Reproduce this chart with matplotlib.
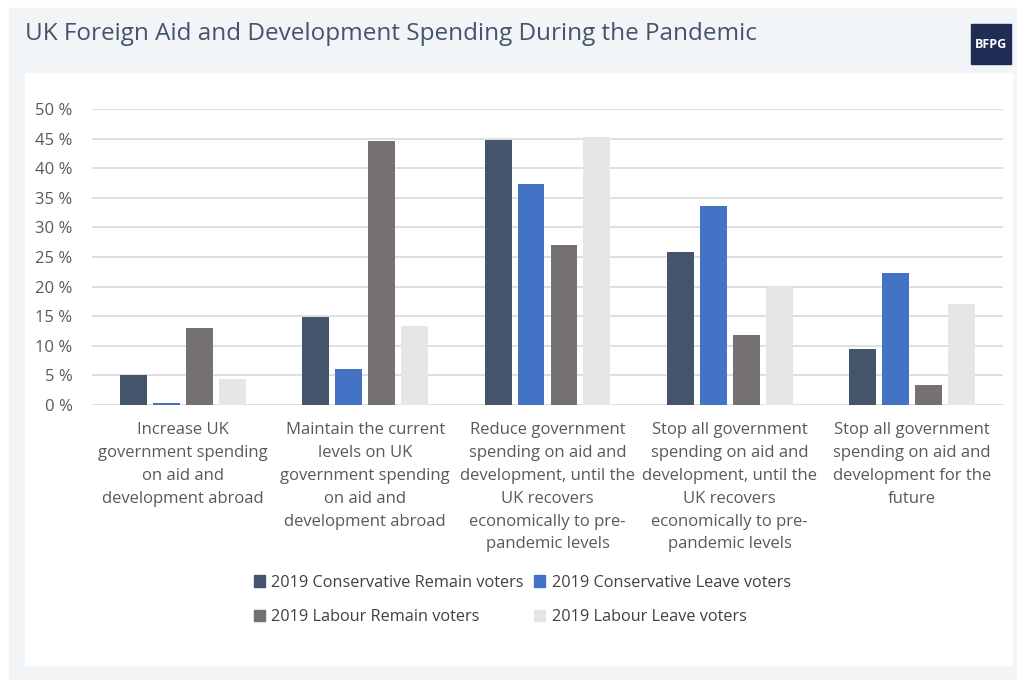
import matplotlib.pyplot as plt
import matplotlib.patches as mpatches
import numpy as np

plt.rcParams['font.family'] = ['Open Sans', 'DejaVu Sans']

# data (percent)
categories = [
    "Increase UK\ngovernment spending\non aid and\ndevelopment abroad",
    "Maintain the current\nlevels on UK\ngovernment spending\non aid and\ndevelopment abroad",
    "Reduce government\nspending on aid and\ndevelopment, until the\nUK recovers\neconomically to pre-\npandemic levels",
    "Stop all government\nspending on aid and\ndevelopment, until the\nUK recovers\neconomically to pre-\npandemic levels",
    "Stop all government\nspending on aid and\ndevelopment for the\nfuture",
]
series_names = [
    "2019 Conservative Remain voters",
    "2019 Conservative Leave voters",
    "2019 Labour Remain voters",
    "2019 Labour Leave voters",
]
con_remain = [5.0, 14.8, 44.7, 25.9, 9.4]
con_leave = [0.3, 6.1, 37.3, 33.6, 22.3]
lab_remain = [13.0, 44.6, 27.0, 11.8, 3.4]
lab_leave = [4.4, 13.3, 45.3, 19.9, 17.0]
yticks = [0, 5, 10, 15, 20, 25, 30, 35, 40, 45, 50]

colors = ['#44546a', '#4472c4', '#767171', '#e7e6e6']
series = [con_remain, con_leave, lab_remain, lab_leave]

fig = plt.figure(figsize=(10.24, 6.8), dpi=100)
fig.patch.set_facecolor('white')

W, H = 1024, 680
# background panels
fig.patches.append(mpatches.Rectangle((9 / W, 1 - 680 / H), 1007 / W, 672 / H,
                                      transform=fig.transFigure, color='#f2f5f8', zorder=-3))
fig.patches.append(mpatches.Rectangle((25 / W, 1 - 665 / H), 987 / W, 592 / H,
                                      transform=fig.transFigure, color='white', zorder=-2))
# logo
fig.patches.append(mpatches.Rectangle((971 / W, 1 - 64 / H), 40 / W, 40 / H,
                                      transform=fig.transFigure, color='#1f2d54', zorder=-1))
fig.text(991 / W, 1 - 44 / H, "BFPG", color='white', fontsize=9, fontweight='bold',
         ha='center', va='center')

fig.text(25 / W, 1 - 34 / H, "UK Foreign Aid and Development Spending During the Pandemic",
         fontsize=17.5, color='#44546a', ha='left', va='center')

ax = fig.add_axes([92 / W, 1 - 405 / H, 911 / W, 296 / H])
x = np.arange(len(categories))
step = 0.181
width = 0.148
for i, (vals, c) in enumerate(zip(series, colors)):
    ax.bar(x + (i - 1.5) * step, vals, width, color=c, label=series_names[i], zorder=2)

ax.set_xlim(-0.5, len(categories) - 0.5)
ax.set_ylim(0, 50)
ax.set_yticks(yticks)
ax.set_yticklabels([f"{v} %" for v in yticks], fontsize=12, color='#595959')
ax.set_xticks(x)
ax.set_xticklabels(categories, fontsize=12, color='#595959', linespacing=1.58, va='top')
ax.tick_params(axis='both', length=0)
ax.tick_params(axis='x', pad=12)
ax.tick_params(axis='y', pad=14)
ax.yaxis.grid(True, color='#d9d9d9', linewidth=1.2, zorder=0)
for s in ax.spines.values():
    s.set_visible(False)
ax.set_facecolor('white')

handles = [mpatches.Patch(color=c) for c in colors]
order = [0, 2, 1, 3]
fig.legend([handles[k] for k in order], [series_names[k] for k in order],
           ncol=2, loc='center', bbox_to_anchor=(522 / W, 1 - 600 / H),
           frameon=False, fontsize=11.7, handlelength=0.7, handleheight=0.7,
           handletextpad=0.4, columnspacing=0.6, labelspacing=1.15,
           labelcolor='#404040')

fig.savefig('out.png', dpi=100)
